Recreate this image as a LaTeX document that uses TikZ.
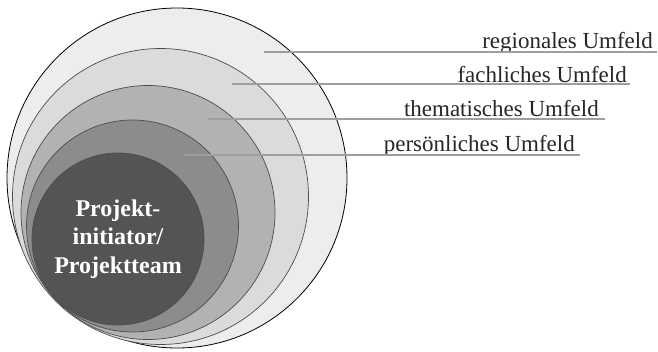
\documentclass[tikz,border=0pt]{standalone}
\usepackage{fontspec}
\setmainfont{Liberation Serif}
\begin{document}
\begin{tikzpicture}[x=1pt,y=-1pt,
  ring/.style={draw=black!70, line width=0.7pt},
  lead/.style={draw=black!38, line width=1.1pt},
  lbl/.style={anchor=base east, inner sep=0pt, text=black!85,
              font=\fontsize{23}{27}\selectfont}]
  \useasboundingbox (0,0) rectangle (658,351);

  % nested fields, outermost first
  \fill[black!7]  (177,178) circle (170);
  \draw[black, line width=0.8pt] (177,178) circle (170);
  \filldraw[ring, fill=black!14] (160.5,196.5) circle (148);
  \filldraw[ring, fill=black!30] (148,212.5) circle (127);
  \filldraw[ring, fill=black!45] (132.5,226) circle (106);
  \node[ring, fill=black!67, circle, minimum size=172pt, inner sep=0pt,
        align=center, text=white,
        font=\bfseries\fontsize{24}{28.5}\selectfont] (core) at (118,239)
        {Projekt-\\initiator/\\Projektteam};

  % labels
  \node[lbl] (l1) at (653,48)  {regionales Umfeld};
  \node[lbl] (l2) at (627,82)  {fachliches Umfeld};
  \node[lbl] (l3) at (599,116) {thematisches Umfeld};
  \node[lbl] (l4) at (575,151) {persönliches Umfeld};

  % leader line anchors
  \coordinate (s1) at (264,52);  \coordinate (e1) at (657,52);
  \coordinate (s2) at (232,84);  \coordinate (e2) at (630,84);
  \coordinate (s3) at (208,119); \coordinate (e3) at (605,119);
  \coordinate (s4) at (184,155); \coordinate (e4) at (580,155);

  \draw[lead] (s1) -- (e1);
  \draw[lead] (s2) -- (e2);
  \draw[lead] (s3) -- (e3);
  \draw[lead] (s4) -- (e4);
\end{tikzpicture}
\end{document}
